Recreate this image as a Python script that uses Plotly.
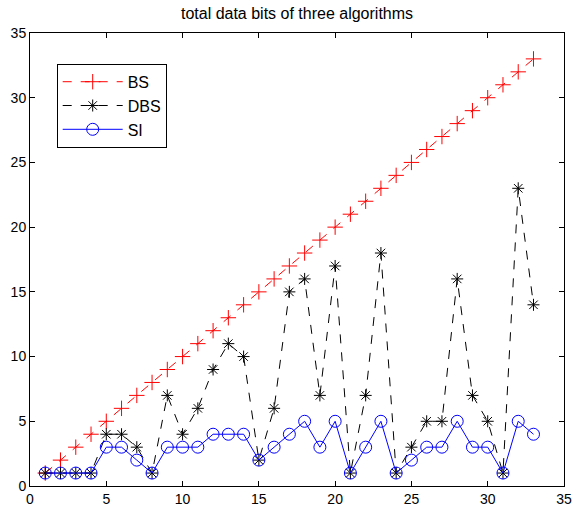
import plotly.graph_objects as go

x = list(range(1, 34))
bs = list(range(1, 34))
dbs = [1, 1, 1, 1, 4, 4, 3, 1, 7, 4, 6, 9, 11, 10, 2, 6, 15, 16, 7, 17, 1, 7, 18, 1, 3, 5, 5, 16, 7, 5, 1, 23, 14]
si = [1, 1, 1, 1, 3, 3, 2, 1, 3, 3, 3, 4, 4, 4, 2, 3, 4, 5, 3, 5, 1, 3, 5, 1, 2, 3, 3, 5, 3, 3, 1, 5, 4]

fig = go.Figure()
fig.add_trace(go.Scatter(x=x, y=bs, name="BS", mode="lines+markers", legendgroup="a",
                         line=dict(color="red", width=1, dash="dash"),
                         marker=dict(symbol="cross-thin-open", size=11, color="red",
                                     line=dict(color="red", width=1))))
fig.add_trace(go.Scatter(x=x, y=dbs, name="DBS", mode="lines+markers", legendgroup="b",
                         line=dict(color="black", width=1, dash="dash"),
                         marker=dict(symbol="asterisk-open", size=10, color="black",
                                     line=dict(color="black", width=1))))
fig.add_trace(go.Scatter(x=x, y=si, name="SI", mode="lines+markers", legendgroup="c",
                         line=dict(color="blue", width=1),
                         marker=dict(symbol="circle-open", size=12, color="blue",
                                     line=dict(color="blue", width=1))))

axis_common = dict(showgrid=False, zeroline=False, showline=True, linecolor="black",
                   linewidth=1, mirror="ticks", ticks="inside", ticklen=5,
                   tickcolor="black", tickfont=dict(size=14, color="black"),
                   automargin=False)
fig.update_xaxes(range=[0, 35], tickvals=[0, 5, 10, 15, 20, 25, 30, 35], **axis_common)
fig.update_yaxes(range=[0, 35], tickvals=[0, 5, 10, 15, 20, 25, 30, 35], **axis_common)

fig.update_layout(
    width=573, height=515,
    margin=dict(l=30, r=9, t=33, b=29),
    paper_bgcolor="white", plot_bgcolor="white",
    font=dict(family="Liberation Sans, Arial, sans-serif", color="black"),
    title=dict(text="total data bits of three algorithms", x=0.5, xref="paper",
               xanchor="center", y=1 - 13 / 515, yref="container", yanchor="middle",
               pad=dict(t=0, b=0), font=dict(size=16)),
    legend=dict(x=0.05, y=0.932, xanchor="left", yanchor="top",
                bordercolor="black", borderwidth=1, bgcolor="white",
                font=dict(size=16), itemwidth=60, tracegroupgap=0),
    showlegend=True,
)

# remove the page's default body margin so the figure fills the window exactly
fig.write_html("out.html", config={"displayModeBar": False},
               post_script="document.body.style.margin='0';")
